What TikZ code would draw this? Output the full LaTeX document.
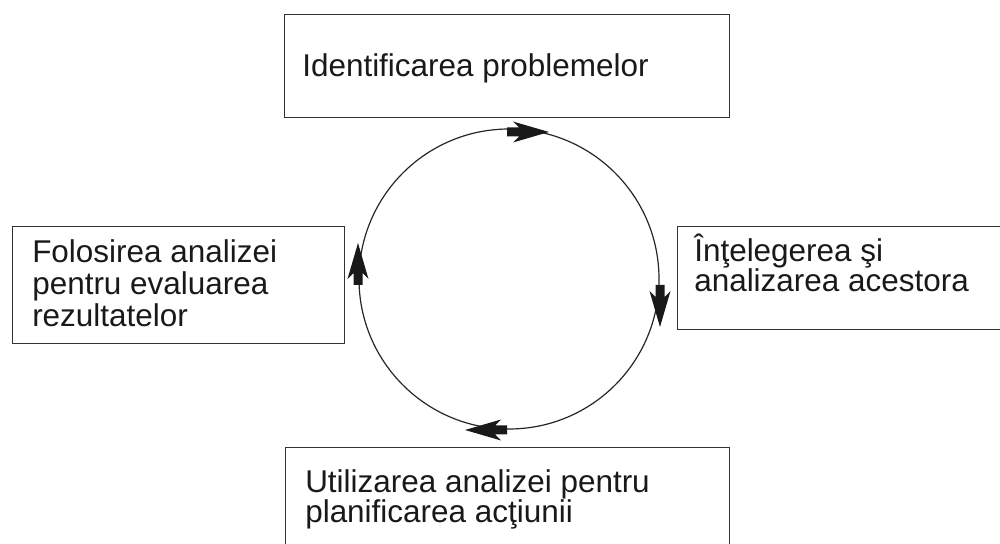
\documentclass[tikz,border=0pt]{standalone}
\usepackage{fontspec}
\setmainfont{Liberation Sans}
\begin{document}
\begin{tikzpicture}[x=0.75pt,y=0.75pt,
  box/.style={draw=black!80, line width=1.1pt, rectangle, inner sep=0pt, anchor=north west},
  lbl/.style={anchor=base west, inner sep=0pt, align=left, font=\fontsize{23.6}{22.5}\selectfont, text=black!90},
  ring/.style={draw=black!85, line width=0.9pt},
  cyc/.pic={\fill[black!90] (21,0) -- (-15,10.5) -- (-9,4.5) -- (-21,4.5) -- (-21,-4.5) -- (-9,-4.5) -- (-15,-10.5) -- cycle;}]
\useasboundingbox (0,0) rectangle (1000,543);
% boxes
\node[box, minimum width=333.75pt, minimum height=77.25pt] (top) at (284,529) {};
\node[box, minimum width=249pt, minimum height=87.75pt] (left) at (12,317) {};
\node[box, minimum width=255pt, minimum height=77.25pt] (right) at (677,317) {};
\node[box, minimum width=333pt, minimum height=90pt] (bottom) at (285,96) {};
% texts
\node[lbl] (ttop) at (302,466) {Identificarea problemelor};
\node[lbl, font=\fontsize{23.6}{24}\selectfont] (tleft) at (32,216) {Folosirea analizei\\pentru evaluarea\\rezultatelor};
\node[lbl] (tright) at (694,251) {Înţelegerea şi\\analizarea acestora};
\node[lbl] (tbottom) at (305,21) {Utilizarea analizei pentru\\planificarea acţiunii};
% cycle
\coordinate (c) at (509,264);
\draw[ring] (c) circle[radius=112.5pt];
\pic at (528,411) {cyc};
\pic[rotate=-90] at (660,237) {cyc};
\pic[rotate=180] at (486,113) {cyc};
\pic[rotate=90] at (358,279) {cyc};
\end{tikzpicture}
\end{document}
